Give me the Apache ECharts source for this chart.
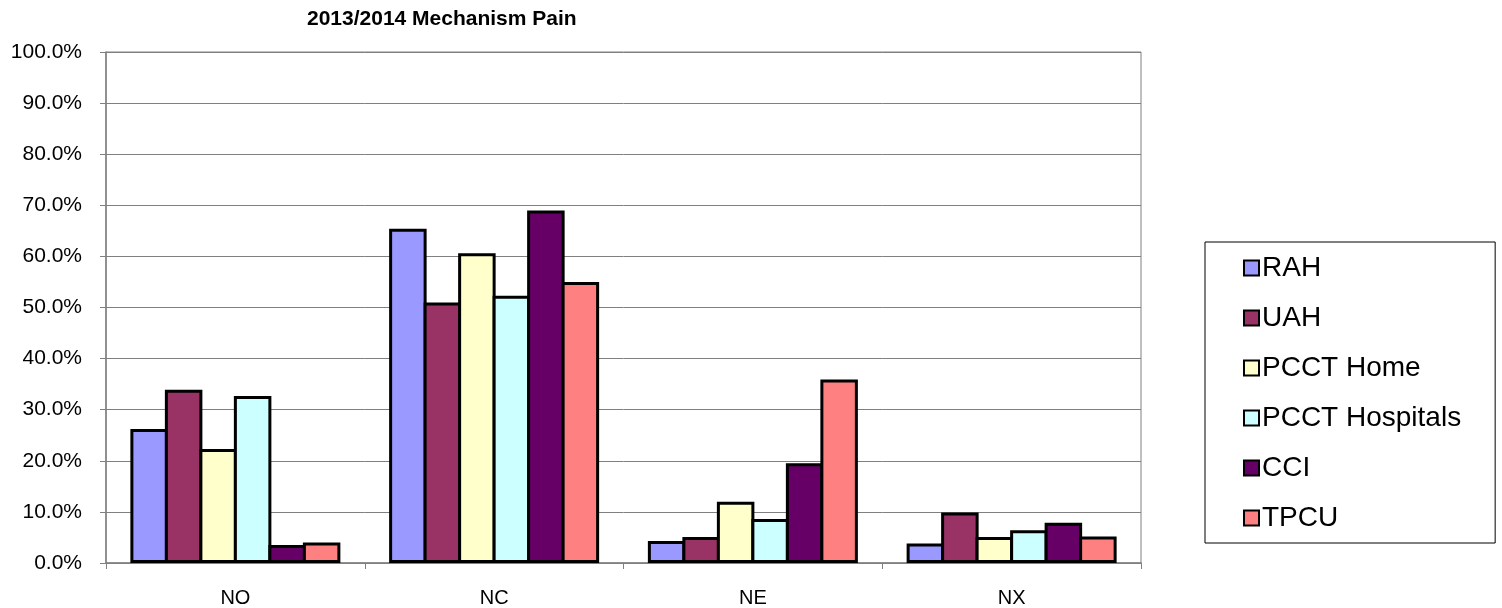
<!doctype html>
<html lang="en">
<head>
    <meta charset="UTF-8">
    <title>2013/2014 Mechanism Pain</title>
    <script src="https://cdn.jsdelivr.net/npm/echarts@6/dist/echarts.min.js"></script>
    <style>
        html, body { margin: 0; padding: 0; background: #fff; }
        #main { width: 1502px; height: 608px; }
    </style>
</head>
<body>
<div id="main"></div>
<script type="text/javascript">
    // categories and series values (percent)
    var categories = ['NO', 'NC', 'NE', 'NX'];
    var seriesNames = ['RAH', 'UAH', 'PCCT Home', 'PCCT Hospitals', 'CCI', 'TPCU'];
    var rah = [26.2, 65.4, 4.3, 3.8];
    var uah = [33.9, 51.0, 5.1, 9.9];
    var pcctHome = [22.3, 60.6, 12.0, 5.1];
    var pcctHospitals = [32.7, 52.3, 8.6, 6.4];
    var cci = [3.5, 69.0, 19.5, 7.9];
    var tpcu = [4.0, 55.0, 35.9, 5.2];
    var colors = ['#9999FF', '#993366', '#FFFFCC', '#CCFFFF', '#660066', '#FF8080'];

    var allValues = [rah, uah, pcctHome, pcctHospitals, cci, tpcu];

    var myChart = echarts.init(document.getElementById('main'));

    var series = [];
    for (var i = 0; i < seriesNames.length; i++) {
        series.push({
            name: seriesNames[i],
            type: 'bar',
            data: allValues[i],
            barWidth: 37.5,
            barGap: '-8%',
            itemStyle: {
                color: colors[i],
                borderColor: '#000',
                borderWidth: 3
            }
        });
    }

    myChart.setOption({
        backgroundColor: '#fff',
        animation: false,
        textStyle: { fontFamily: 'Liberation Sans, Arial, sans-serif' },
        title: {
            text: '2013/2014 Mechanism Pain',
            left: 302,
            top: 4,
            textStyle: { fontSize: 21, fontWeight: 'bold', color: '#000' }
        },
        grid: {
            left: 106,
            right: 361,
            top: 52,
            bottom: 45,
            show: true,
            borderColor: '#808080',
            borderWidth: 1
        },
        legend: {
            orient: 'vertical',
            left: 1205,
            top: 242,
            padding: [12, 34, 11, 38],
            itemGap: 22,
            itemWidth: 15,
            itemHeight: 15,
            icon: 'rect',
            borderColor: '#000',
            borderWidth: 1,
            textStyle: { fontSize: 28, lineHeight: 28, color: '#000', padding: [0, 0, 0, -2] },
            itemStyle: { borderColor: '#000', borderWidth: 2 },
            data: seriesNames
        },
        xAxis: {
            type: 'category',
            data: categories,
            axisLine: { lineStyle: { color: '#808080', width: 1.5 } },
            axisTick: { show: true, length: 6, lineStyle: { color: '#808080' } },
            axisLabel: { fontSize: 20, color: '#000', margin: 25 }
        },
        yAxis: {
            type: 'value',
            min: 0,
            max: 100,
            interval: 10,
            axisLine: { show: true, lineStyle: { color: '#808080', width: 1.5 } },
            axisTick: { show: true, length: 6, lineStyle: { color: '#808080' } },
            axisLabel: {
                fontSize: 21,
                color: '#000',
                margin: 24,
                formatter: function (v) { return v.toFixed(1) + '%'; }
            },
            splitLine: { lineStyle: { color: '#808080', width: 1 } }
        },
        series: series
    });
</script>
</body>
</html>
